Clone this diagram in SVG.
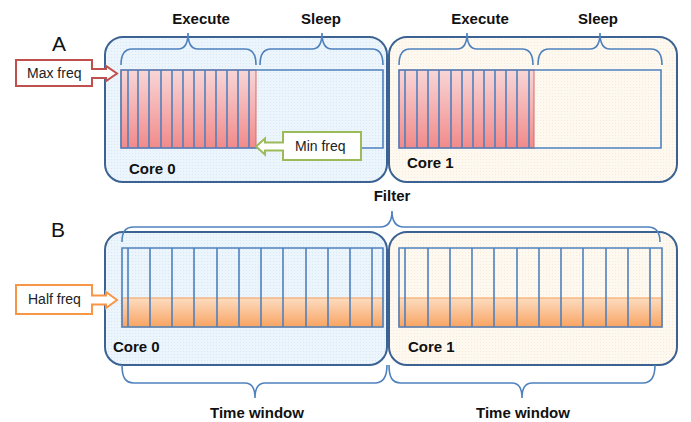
<svg xmlns="http://www.w3.org/2000/svg" width="691" height="422" viewBox="0 0 691 422">
<defs>
<linearGradient id="gRed" x1="0" y1="0" x2="0" y2="1"><stop offset="0" stop-color="#f8d6d6"/><stop offset="1" stop-color="#f28a8a"/></linearGradient>
<linearGradient id="gOr" x1="0" y1="0" x2="0" y2="1"><stop offset="0" stop-color="#fcdcc0"/><stop offset="1" stop-color="#f8a462"/></linearGradient>
<pattern id="dotB" width="3" height="3" patternUnits="userSpaceOnUse"><rect width="3" height="3" fill="#edf5fc"/><rect width="1" height="1" fill="#d6e7f5"/></pattern>
<pattern id="dotY" width="3" height="3" patternUnits="userSpaceOnUse"><rect width="3" height="3" fill="#fef9f0"/><rect width="1" height="1" fill="#f8ecd6"/></pattern>
</defs>
<style>
.core{stroke:#3b6292;stroke-width:2;}
.c0{fill:url(#dotB);}
.c1{fill:url(#dotY);}
.tl{fill:none;stroke:#4f81bd;stroke-width:1.6;}
.bar{stroke:#4f81bd;stroke-width:1.6;}
.brace{fill:none;stroke:#4f81bd;stroke-width:1.6;}
.lbl{font-family:"Liberation Sans",Arial,sans-serif;font-weight:bold;font-size:15px;fill:#111;}
.big{font-family:"Liberation Sans",Arial,sans-serif;font-size:21px;fill:#111;}
.cl{font-family:"Liberation Sans",Arial,sans-serif;font-size:14px;fill:#222;}
.red{fill:url(#gRed);stroke:#d46a6a;stroke-width:1;}
.org{fill:url(#gOr);stroke:#f5a05a;stroke-width:1;}
</style>

<text class="big" x="52" y="51">A</text>
<text class="big" x="51" y="237">B</text>

<!-- Part A -->
<g id="coreA0">
<rect class="core c0" x="105" y="37" width="282" height="145" rx="18"/>
<rect class="red" x="121" y="70" width="135" height="78"/>
<path class="tl" d="M121,70 H383 V148 H121 Z"/>
<g class="bar"><path d="M128,70V148M138,70V148M149,70V148M161,70V148M172,70V148M183,70V148M194,70V148M205,70V148M216,70V148M227,70V148M238,70V148M249,70V148"/></g>
<text class="lbl" x="129" y="174">Core 0</text>
</g>
<g id="coreA1">
<rect class="core c1" x="389" y="37" width="288" height="145" rx="18"/>
<rect class="red" x="399" y="70" width="135" height="78"/>
<path class="tl" d="M399,70 H661 V148 H399 Z"/>
<g class="bar"><path d="M405,70V148M417,70V148M428,70V148M439,70V148M451,70V148M462,70V148M473,70V148M484,70V148M495,70V148M506,70V148M517,70V148M529,70V148"/></g>
<text class="lbl" x="407" y="168">Core 1</text>
</g>

<g id="maxfreq">
<path d="M16,60 H92 V69 H106 V66 L117,73.5 L106,81 V78 H92 V86 H16 Z" fill="#fff" stroke="#c0504d" stroke-width="2"/>
<text class="cl" x="27" y="78">Max freq</text>
</g>
<g id="minfreq">
<path d="M361,132 H283 V142.5 H265 V138.5 L256,146.5 L265,154.5 V150.5 H283 V160 H361 Z" fill="#fff" stroke="#9bbb59" stroke-width="2"/>
<text class="cl" x="295" y="151">Min freq</text>
</g>

<g id="bracesA">
<path class="brace" d="M121,65 C121,54 125,49 132,49 H178 C184,49 188,45 188,33 C188,45 192,49 198,49 H245 C252,49 256,54 256,65"/>
<path class="brace" d="M260,65 C260,54 264,49 271,49 H312 C318,49 322,45 322,33 C322,45 326,49 332,49 H372 C379,49 383,54 383,65"/>
<path class="brace" d="M399,65 C399,54 403,49 410,49 H457 C463,49 467,45 467,33 C467,45 471,49 477,49 H522 C529,49 533,54 533,65"/>
<path class="brace" d="M538,65 C538,54 542,49 549,49 H590 C596,49 600,45 600,33 C600,45 604,49 610,49 H651 C658,49 662,54 662,65"/>
<text class="lbl" x="201" y="24" text-anchor="middle">Execute</text>
<text class="lbl" x="321" y="24" text-anchor="middle">Sleep</text>
<text class="lbl" x="480" y="24" text-anchor="middle">Execute</text>
<text class="lbl" x="598" y="24" text-anchor="middle">Sleep</text>
</g>

<!-- Part B -->
<g id="coreB0">
<rect class="core c0" x="105" y="232" width="282" height="133" rx="18"/>
<rect class="org" x="122" y="298" width="261" height="29"/>
<path class="tl" d="M122,248 H383 V327 H122 Z"/>
<g class="bar"><path d="M128,248V327M150,248V327M172,248V327M194,248V327M217,248V327M239,248V327M261,248V327M283,248V327M306,248V327M328,248V327M350,248V327M372,248V327"/></g>
<text class="lbl" x="113" y="352">Core 0</text>
</g>
<g id="coreB1">
<rect class="core c1" x="389" y="232" width="288" height="133" rx="18"/>
<rect class="org" x="399" y="298" width="263" height="29"/>
<path class="tl" d="M399,248 H662 V327 H399 Z"/>
<g class="bar"><path d="M405,248V327M428,248V327M450,248V327M472,248V327M494,248V327M517,248V327M539,248V327M561,248V327M583,248V327M606,248V327M628,248V327M650,248V327"/></g>
<text class="lbl" x="408" y="352">Core 1</text>
</g>

<g id="halffreq">
<path d="M16,285 H92 V295.5 H106 V292 L117,300 L106,308 V304.5 H92 V314 H16 Z" fill="#fff" stroke="#f79646" stroke-width="2"/>
<text class="cl" x="28" y="304">Half freq</text>
</g>

<g id="bracesB">
<path class="brace" d="M122,242 C122,232 125,227 134,227 H380 C387,227 392,223 392,211 C392,223 397,227 404,227 H648 C656,227 660,232 660,242"/>
<path class="brace" d="M122,365 C122,377 125,383 134,383 H245 C251,383 255,387 255,398 C255,387 259,383 265,383 H375 C383,383 387,377 387,365"/>
<path class="brace" d="M389,365 C389,377 392,383 401,383 H512 C518,383 522,387 522,398 C522,387 526,383 532,383 H643 C651,383 655,377 655,365"/>
<text class="lbl" x="392" y="201" text-anchor="middle">Filter</text>
<text class="lbl" x="257" y="418" text-anchor="middle">Time window</text>
<text class="lbl" x="523" y="418" text-anchor="middle">Time window</text>
</g>
</svg>
